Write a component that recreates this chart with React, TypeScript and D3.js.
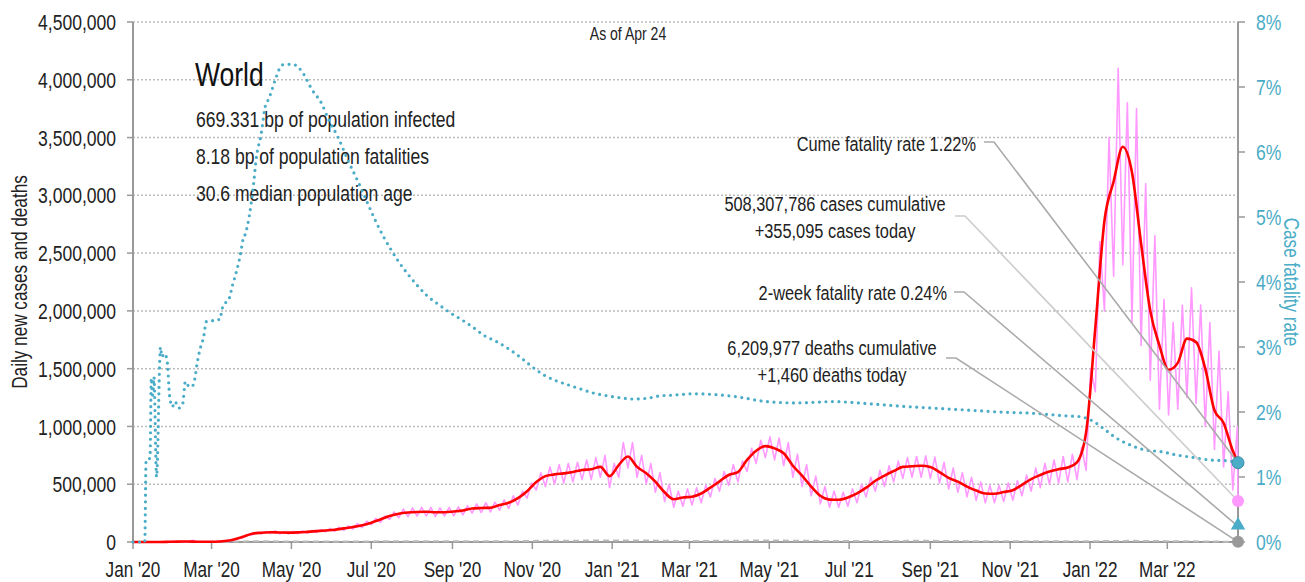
import React from "react";
import * as d3 from "d3";

// reporting window
const startDate = new Date(2020, 0, 1);
const endDate = new Date(2022, 3, 24);

// 7-day average of new cases, one value per week from Jan 1 2020
const casesAvgWeekly = [
  0, 0, 50, 200, 1800, 3200, 4500, 2500, 1800, 2200,
  8000, 22000, 45000, 72000, 80000, 84000, 82000, 81000, 83000, 88000,
  94000, 100000, 106000, 118000, 130000, 145000, 167000, 195000, 225000, 245000,
  255000, 260000, 262000, 258000, 258000, 264000, 272000, 290000, 294000, 297000,
  320000, 340000, 380000, 440000, 520000, 570000, 585000, 594000, 605000, 623000,
  630000, 650000, 570000, 666000, 740000, 650000, 595000, 522000, 430000, 370000,
  385000, 392000, 420000, 470000, 525000, 580000, 605000, 710000, 790000, 830000,
  810000, 768000, 660000, 575000, 480000, 400000, 367000, 365000, 385000, 420000,
  470000, 530000, 575000, 614000, 650000, 655000, 660000, 650000, 605000, 555000,
  522000, 479000, 445000, 420000, 418000, 432000, 448000, 495000, 545000, 580000,
  610000, 630000, 645000, 690000, 950000, 1850000, 2780000, 3120000, 3420000, 3200000,
  2580000, 2000000, 1700000, 1490000, 1550000, 1760000, 1730000, 1500000, 1140000, 1030000,
  790000,
];
const casesAvgToday = 690000;

// daily new cases: weekly low (start of week) and mid-week high
const casesDailyLow = [
  0, 0, 0, 100, 1000, 2500, 2000, 500, 900, 1500,
  4000, 16000, 38000, 62000, 70000, 74000, 70000, 70000, 72000, 76000,
  82000, 88000, 92000, 100000, 112000, 125000, 150000, 170000, 195000, 210000,
  220000, 225000, 225000, 220000, 225000, 225000, 235000, 250000, 255000, 260000,
  275000, 290000, 320000, 380000, 450000, 480000, 500000, 510000, 520000, 540000,
  540000, 560000, 470000, 560000, 640000, 560000, 500000, 430000, 350000, 300000,
  310000, 320000, 340000, 390000, 440000, 490000, 520000, 610000, 680000, 730000,
  710000, 660000, 560000, 480000, 400000, 330000, 300000, 300000, 310000, 340000,
  390000, 440000, 480000, 520000, 550000, 560000, 560000, 550000, 510000, 460000,
  430000, 390000, 360000, 340000, 340000, 350000, 360000, 400000, 440000, 470000,
  500000, 510000, 520000, 540000, 620000, 1300000, 2000000, 2300000, 2400000, 1900000,
  1700000, 1400000, 1150000, 1100000, 1150000, 1250000, 1200000, 1000000, 800000, 650000,
  450000,
];
const casesDailyHigh = [
  0, 0, 100, 600, 2600, 3900, 15000, 2100, 2500, 3000,
  11000, 30000, 60000, 84000, 90000, 96000, 90000, 92000, 96000, 100000,
  106000, 118000, 128000, 140000, 160000, 180000, 205000, 225000, 260000, 285000,
  295000, 300000, 300000, 295000, 300000, 305000, 315000, 330000, 340000, 345000,
  365000, 400000, 440000, 510000, 600000, 650000, 670000, 680000, 690000, 710000,
  730000, 750000, 680000, 860000, 860000, 750000, 680000, 600000, 500000, 440000,
  460000, 470000, 490000, 550000, 610000, 670000, 700000, 810000, 880000, 910000,
  900000, 860000, 760000, 670000, 570000, 480000, 440000, 430000, 460000, 500000,
  560000, 620000, 660000, 700000, 730000, 740000, 745000, 735000, 690000, 640000,
  600000, 560000, 520000, 490000, 490000, 510000, 530000, 580000, 640000, 680000,
  710000, 740000, 760000, 820000, 1500000, 2600000, 3500000, 4100000, 3800000, 3750000,
  3100000, 2650000, 2100000, 1900000, 2050000, 2200000, 2050000, 1900000, 1650000, 1300000,
  1000000,
];
const casesToday = 355095;

// 7-day average of deaths, first of each month
const deathsAvgMonthly = [
  0, 60, 300, 6000, 5000, 4500, 5300, 6000, 5500, 6000, 9500, 11500,
  13500, 12000, 8500, 11000, 13000, 10500, 7800, 9500, 10000, 7300, 6800, 7000,
  6500, 10000, 7500, 4500,
];
const deathsToday = 1460;

// case fatality rate (%), days since Jan 1 2020
const cfrDays = [
  0, 5, 9, 10, 13, 14, 15, 16, 18, 21, 22, 24, 26, 28, 30, 32, 35, 38, 40, 43,
  45, 47, 49, 51, 54, 56, 60, 64, 66, 69, 73, 76, 79, 82, 84, 86, 92, 94, 98, 101,
  104, 106, 109, 114, 122, 129, 137, 144, 149, 157, 164, 172, 176, 181, 186, 191, 197, 203, 210, 217,
  224, 233, 242, 251, 260, 268, 278, 287, 296, 304, 313, 322, 332, 341, 352, 362, 372, 382, 392, 403,
  413, 428, 459, 484, 507, 535, 560, 586, 611, 637, 662, 688, 713, 723, 734, 741, 751, 762, 772, 785,
  797, 810, 823, 836, 844,
];
const cfrValues = [
  0, 0, 0, 1.26, 1.29, 2.52, 2.26, 2.54, 1.0, 3.0, 2.85, 2.9, 2.8, 2.24, 2.08, 2.16, 2.06, 2.13, 2.47, 2.39,
  2.39, 2.49, 2.75, 2.95, 3.16, 3.39, 3.4, 3.43, 3.42, 3.65, 3.72, 3.95, 4.16, 4.42, 4.65, 4.75, 5.49, 5.88, 6.29, 6.7,
  6.83, 6.95, 7.13, 7.34, 7.35, 7.24, 6.95, 6.75, 6.52, 6.21, 5.88, 5.54, 5.36, 5.13, 4.91, 4.71, 4.5, 4.31, 4.12, 3.95,
  3.8, 3.66, 3.53, 3.42, 3.3, 3.18, 3.08, 2.97, 2.84, 2.71, 2.58, 2.49, 2.42, 2.36, 2.29, 2.25, 2.22, 2.2, 2.21, 2.25,
  2.26, 2.28, 2.24, 2.16, 2.14, 2.16, 2.13, 2.09, 2.06, 2.03, 2.0, 1.98, 1.94, 1.93, 1.85, 1.75, 1.6, 1.49, 1.42, 1.39,
  1.34, 1.3, 1.26, 1.25, 1.22,
];
const cfrToday = 1.22;
const twoWeekCfr = 0.24;

const leftTicks = [0, 500000, 1000000, 1500000, 2000000, 2500000, 3000000, 3500000, 4000000, 4500000];
const rightTicks = [0, 1, 2, 3, 4, 5, 6, 7, 8];

const infoLines = [
  "669.331 bp of population infected",
  "8.18 bp of population fatalities",
  "30.6 median population age",
];

const FONT = "'Liberation Sans', Arial, sans-serif";
const TEAL = "#4aacc6";
const PINK = "#ff99ff";
const TEXT = "#222";
const SQUEEZE = 0.78; // condensed look: horizontal squeeze of Liberation Sans

const dayToDate = (d: number) => new Date(startDate.getTime() + d * 864e5);

// narrow text: positioned at (x, y), optionally rotated, squeezed along its own baseline
const NText = ({ x, y, rotate = 0, anchor = "start", size, fill = TEXT, dy, children }: any) => (
  <text
    transform={`translate(${x},${y}) rotate(${rotate}) scale(${SQUEEZE},1)`}
    textAnchor={anchor}
    fontSize={size}
    fill={fill}
    dy={dy}
  >
    {children}
  </text>
);

export default function App() {
  const width = 1305;
  const height = 582;
  const margin = { top: 22, right: 67, bottom: 40, left: 133 };
  const x0 = margin.left;
  const x1 = width - margin.right;
  const y0 = height - margin.bottom;

  const x = d3.scaleTime().domain([startDate, endDate]).range([x0, x1]);
  const yL = d3.scaleLinear().domain([0, 4500000]).range([y0, margin.top]);
  const yR = d3.scaleLinear().domain([0, 8]).range([y0, margin.top]);

  const xTicks = d3.timeMonth.every(2)!.range(startDate, d3.timeDay.offset(endDate, 1));
  const fmtX = d3.timeFormat("%b '%y");
  const fmtL = d3.format(",");

  // daily cases zig-zag
  const dailyPts: [Date, number][] = [];
  casesDailyLow.forEach((lo, i) => {
    dailyPts.push([dayToDate(7 * i), lo]);
    dailyPts.push([dayToDate(7 * i + 3.5), casesDailyHigh[i]]);
  });
  dailyPts.push([endDate, casesToday]);

  const avgPts: [Date, number][] = casesAvgWeekly.map((v, i) => [dayToDate(7 * i), v]);
  avgPts.push([endDate, casesAvgToday]);

  const deathPts: [Date, number][] = deathsAvgMonthly.map((v, i) => [d3.timeMonth.offset(startDate, i), v]);
  deathPts.push([endDate, deathsToday]);

  const cfrPts: [Date, number][] = cfrDays.map((d, i) => [dayToDate(d), cfrValues[i]]);

  const lineL = d3
    .line<[Date, number]>()
    .x((d) => x(d[0]))
    .y((d) => yL(d[1]));
  const lineAvg = d3
    .line<[Date, number]>()
    .x((d) => x(d[0]))
    .y((d) => yL(d[1]))
    .curve(d3.curveMonotoneX);
  const lineR = d3
    .line<[Date, number]>()
    .x((d) => x(d[0]))
    .y((d) => yR(d[1]))
    .curve(d3.curveMonotoneX);

  // callouts: text block on the left, leader to the marker on the right axis
  const callouts = [
    { lines: ["Cume fatality rate 1.22%"], anchor: "end", tx: 976, ty: 151, lx: 984, ly: 142, ey: yR(cfrToday), stroke: "#aaa" },
    { lines: ["508,307,786 cases cumulative", "+355,095 cases today"], anchor: "middle", tx: 835, ty: 211, lx: 955, ly: 216, ey: yL(casesToday), stroke: "#ccc" },
    { lines: ["2-week fatality rate 0.24%"], anchor: "end", tx: 947, ty: 300, lx: 954, ly: 292, ey: yR(twoWeekCfr), stroke: "#aaa" },
    { lines: ["6,209,977 deaths cumulative", "+1,460 deaths today"], anchor: "middle", tx: 832, ty: 355, lx: 946, ly: 358, ey: yL(deathsToday), stroke: "#aaa" },
  ];

  const xe = x(endDate);
  const tri = d3.symbol(d3.symbolTriangle, 90)();

  return (
    <svg
      width={width}
      height={height}
      style={{ position: "absolute", left: 0, top: 0, fontFamily: FONT, background: "#fff" }}
    >
      {/* gridlines */}
      {leftTicks.map((t) => (
        <line key={"g" + t} x1={x0} x2={x1} y1={yL(t)} y2={yL(t)} stroke="#bbb" strokeWidth={1.5} strokeDasharray="2 2" />
      ))}

      {/* left axis */}
      <line x1={x0} x2={x0} y1={margin.top} y2={y0} stroke="#999" strokeWidth={2} />
      {leftTicks.map((t) => (
        <g key={"l" + t}>
          <line x1={x0 - 6} x2={x0} y1={yL(t)} y2={yL(t)} stroke="#999" strokeWidth={1.5} />
          <NText x={116} y={yL(t)} dy="0.36em" anchor="end" size={22.5}>
            {fmtL(t)}
          </NText>
        </g>
      ))}
      <NText x={27} y={(margin.top + y0) / 2} rotate={-90} anchor="middle" size={22}>
        Daily new cases and deaths
      </NText>

      {/* right axis */}
      <line x1={x1} x2={x1} y1={margin.top} y2={y0} stroke="#999" strokeWidth={2} />
      {rightTicks.map((t) => (
        <g key={"r" + t}>
          <line x1={x1} x2={x1 + 7} y1={yR(t)} y2={yR(t)} stroke="#999" strokeWidth={1.5} />
          <NText x={1256} y={yR(t)} dy="0.36em" size={22.5} fill={TEAL}>
            {t}%
          </NText>
        </g>
      ))}
      <NText x={1284} y={(margin.top + y0) / 2} rotate={90} anchor="middle" size={22} fill={TEAL}>
        Case fatality rate
      </NText>

      {/* bottom axis */}
      <line x1={x0} x2={x1} y1={y0} y2={y0} stroke="#999" strokeWidth={2} />
      {xTicks.map((t) => (
        <g key={"x" + t.getTime()}>
          <line x1={x(t)} x2={x(t)} y1={y0} y2={y0 + 7} stroke="#999" strokeWidth={1.5} />
          <NText x={x(t)} y={577} anchor="middle" size={22}>
            {fmtX(t)}
          </NText>
        </g>
      ))}

      {/* title block */}
      <NText x={628} y={40} anchor="middle" size={18}>
        As of Apr 24
      </NText>
      <NText x={195} y={86} size={34} fill="#111">
        World
      </NText>
      {infoLines.map((s, i) => (
        <NText key={s} x={196} y={127 + 37 * i} size={22.5}>
          {s}
        </NText>
      ))}

      {/* series */}
      <path d={lineL(deathPts) ?? ""} fill="none" stroke="#bbb" strokeWidth={2} strokeDasharray="6 4" />
      <path d={lineL(dailyPts) ?? ""} fill="none" stroke={PINK} strokeWidth={1.6} strokeLinejoin="round" />
      <path d={lineAvg(avgPts) ?? ""} fill="none" stroke="#ff0000" strokeWidth={2.6} strokeLinejoin="round" />
      <path
        d={lineR(cfrPts) ?? ""}
        fill="none"
        stroke={TEAL}
        strokeWidth={3.2}
        strokeDasharray="0 6.5"
        strokeLinecap="round"
      />

      {/* callouts */}
      {callouts.map((c, i) => (
        <g key={"c" + i}>
          {c.lines.map((s, j) => (
            <NText key={j} x={c.tx} y={c.ty + 27 * j} anchor={c.anchor} size={21}>
              {s}
            </NText>
          ))}
          <polyline
            points={`${c.lx},${c.ly} ${c.lx + 10},${c.ly} ${xe},${c.ey}`}
            fill="none"
            stroke={c.stroke}
            strokeWidth={1.6}
          />
        </g>
      ))}

      {/* end markers */}
      <circle cx={xe} cy={yL(deathsToday)} r={6} fill="#999" />
      <path d={tri ?? ""} transform={`translate(${xe},${yR(twoWeekCfr) - 1})`} fill={TEAL} />
      <circle cx={xe} cy={yL(casesToday)} r={6} fill={PINK} />
      <circle cx={xe} cy={yR(cfrToday)} r={6} fill={TEAL} stroke="#3a8ea6" strokeWidth={1} />
    </svg>
  );
}
